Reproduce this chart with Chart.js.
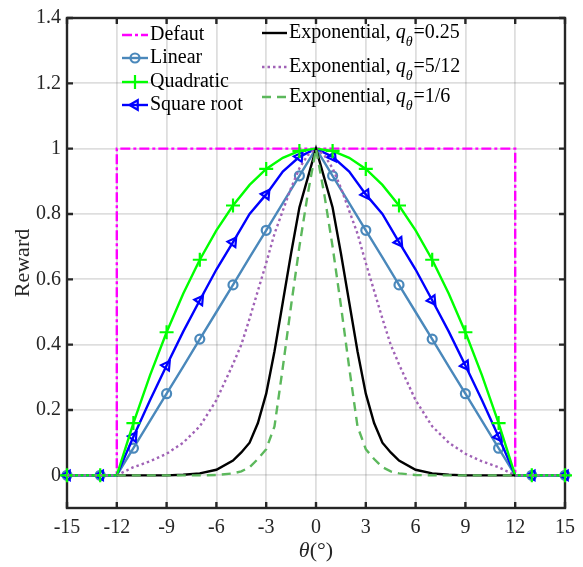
<!DOCTYPE html>
<html>
<head>
<meta charset="utf-8">
<script src="https://cdn.jsdelivr.net/npm/chart.js@4.4.0/dist/chart.umd.min.js"></script>
<style>
  html, body { margin: 0; padding: 0; background: #fff; }
</style>
</head>
<body>
<canvas id="rewardChart" width="583" height="567"></canvas>
<script>
/**
 * Reward vs. theta for the different reward shapes
 */

// integer theta (deg) for the piecewise curves
var thetaInt = [-15,-14,-13,-12,-11,-10,-9,-8,-7,-6,-5,-4,-3,-2,-1,0,1,2,3,4,5,6,7,8,9,10,11,12,13,14,15];
// markers only on odd theta
var markerTheta = [-15,-13,-11,-9,-7,-5,-3,-1,1,3,5,7,9,11,13,15];

var linearVals = [0,0,0,0,0.083,0.167,0.25,0.333,0.417,0.5,0.583,0.667,0.75,0.833,0.917,1,
  0.917,0.833,0.75,0.667,0.583,0.5,0.417,0.333,0.25,0.167,0.083,0,0,0,0];
var quadraticVals = [0,0,0,0,0.16,0.306,0.438,0.556,0.66,0.75,0.826,0.889,0.938,0.972,0.993,1,
  0.993,0.972,0.938,0.889,0.826,0.75,0.66,0.556,0.438,0.306,0.16,0,0,0,0];
var sqrtVals = [0,0,0,0,0.118,0.23,0.336,0.44,0.536,0.63,0.714,0.8,0.86,0.93,0.975,1,
  0.975,0.93,0.86,0.8,0.714,0.63,0.536,0.44,0.336,0.23,0.118,0,0,0,0];

// default (step) reward
var defaultTheta = [-15,-12,-12,12,12,15];
var defaultVals = [0,0,1,1,0,0];

// finer theta for the exponential curves
var expTheta = [-15,-14,-13,-12,-11,-10,-9,-8,-7,-6,-5,-4.5,-4,-3.5,-3,-2.5,-2,-1.5,-1,-0.5,0,
  0.5,1,1.5,2,2.5,3,3.5,4,4.5,5,6,7,8,9,10,11,12,13,14,15];
var exp025Vals = [null,null,null,0,0,0,0,0.002,0.006,0.017,0.045,0.07,0.1,0.16,0.25,0.38,0.53,0.68,0.82,0.91,1,
  0.91,0.82,0.68,0.53,0.38,0.25,0.16,0.1,0.07,0.045,0.017,0.006,0.002,0,0,0,0,null,null,null];
var exp512Vals = [0,0,0,0,0.025,0.043,0.066,0.1,0.15,0.23,0.34,0.4,0.48,0.565,0.65,0.74,0.81,0.88,0.94,0.98,1,
  0.98,0.94,0.88,0.81,0.74,0.65,0.565,0.48,0.4,0.34,0.23,0.15,0.1,0.066,0.043,0.025,0,0,0,0];
var exp16Vals = [null,null,null,0,0,0,0,0,0,0.001,0.006,0.012,0.025,0.05,0.08,0.15,0.33,0.52,0.7,0.86,1,
  0.86,0.7,0.52,0.33,0.15,0.08,0.05,0.025,0.012,0.006,0.001,0,0,0,0,0,0,null,null,null];

var xTickStep = 3;
var yTickVals = [0,0.2,0.4,0.6,0.8,1,1.2,1.4];

var seriesNames = ['Defaut','Linear','Quadratic','Square root'];
var expPrefix = 'Exponential, ';
var expQ = ['0.25','5/12','1/6'];

var serif = '"Liberation Serif", "Times New Roman", serif';
var lw = 2.4;

function toPoints(xs, ys) {
  return xs.map(function(x, i) { return {x: x, y: ys[i]}; });
}

function markerRadius(r) {
  return function(c) { return markerTheta.indexOf(c.raw.x) >= 0 ? r : 0; };
}

var datasets = [
  {
    label: seriesNames[0], data: toPoints(defaultTheta, defaultVals),
    borderColor: '#ff00ff', borderWidth: lw, borderDash: [10, 3, 3, 3],
    pointRadius: 0, order: 7
  },
  {
    label: seriesNames[1], data: toPoints(thetaInt, linearVals),
    borderColor: '#4a88bb', borderWidth: lw,
    pointStyle: 'circle', pointRadius: markerRadius(4.5), pointBorderWidth: 2.2,
    pointBorderColor: '#4a88bb', pointBackgroundColor: 'rgba(0,0,0,0)', order: 6
  },
  {
    label: seriesNames[2], data: toPoints(thetaInt, quadraticVals),
    borderColor: '#00ff00', borderWidth: lw,
    pointStyle: 'cross', pointRadius: markerRadius(7), pointBorderWidth: 2.2,
    pointBorderColor: '#00ff00', order: 4
  },
  {
    label: seriesNames[3], data: toPoints(thetaInt, sqrtVals),
    borderColor: '#0000ff', borderWidth: lw,
    pointStyle: 'triangle', pointRadius: markerRadius(5.5), pointBorderWidth: 2.2,
    pointBorderColor: '#0000ff', pointBackgroundColor: 'rgba(0,0,0,0)',
    pointRotation: function(c) {
      var t = c.raw.x;
      if (Math.abs(t) > 12) return -90;
      return t < 0 ? 35 : 145;
    },
    order: 5
  },
  {
    label: expPrefix + 'q=' + expQ[0], data: toPoints(expTheta, exp025Vals),
    borderColor: '#000000', borderWidth: lw, pointRadius: 0, order: 2
  },
  {
    label: expPrefix + 'q=' + expQ[1], data: toPoints(expTheta, exp512Vals),
    borderColor: '#a062b6', borderWidth: lw, borderDash: [2.5, 3], pointRadius: 0, order: 3
  },
  {
    label: expPrefix + 'q=' + expQ[2], data: toPoints(expTheta, exp16Vals),
    borderColor: '#5cb85c', borderWidth: lw, borderDash: [9, 6], pointRadius: 0, order: 1
  }
];

// box with inward ticks, drawn under the curves; x title with italic theta
var framePlugin = {
  id: 'frame',
  beforeDatasetsDraw: function(chart) {
    var ctx = chart.ctx, a = chart.chartArea, xs = chart.scales.x, ys = chart.scales.y;
    ctx.save();
    ctx.strokeStyle = '#262626';
    ctx.lineWidth = 2.4;
    ctx.beginPath();
    xs.ticks.forEach(function(t) {
      var px = xs.getPixelForValue(t.value);
      ctx.moveTo(px, a.bottom); ctx.lineTo(px, a.bottom - 6);
      ctx.moveTo(px, a.top); ctx.lineTo(px, a.top + 6);
    });
    ys.ticks.forEach(function(t) {
      var py = ys.getPixelForValue(t.value);
      ctx.moveTo(a.left, py); ctx.lineTo(a.left + 6, py);
      ctx.moveTo(a.right, py); ctx.lineTo(a.right - 6, py);
    });
    ctx.stroke();
    ctx.strokeRect(a.left, a.top, a.right - a.left, a.bottom - a.top);

    // x axis title
    var cx = xs.getPixelForValue(0), cy = 551;
    ctx.fillStyle = '#262626';
    ctx.textBaseline = 'middle';
    ctx.textAlign = 'left';
    ctx.font = 'italic 22px ' + serif;
    var w1 = ctx.measureText('\u03b8').width;
    ctx.font = '22px ' + serif;
    var w2 = ctx.measureText('(\u00b0)').width;
    var sx = cx - (w1 + w2) / 2;
    ctx.font = 'italic 22px ' + serif;
    ctx.fillText('\u03b8', sx, cy);
    ctx.font = '22px ' + serif;
    ctx.fillText('(\u00b0)', sx + w1, cy);
    ctx.restore();
  }
};

// two column legend inside the axes (needs subscripts, so drawn by hand)
var legendPlugin = {
  id: 'innerLegend',
  afterDraw: function(chart) {
    var ctx = chart.ctx;
    var rows = [
      {ds: 0, x0: 122, x1: 148, y: 35},
      {ds: 1, x0: 122, x1: 148, y: 58},
      {ds: 2, x0: 122, x1: 148, y: 82},
      {ds: 3, x0: 122, x1: 148, y: 105},
      {ds: 4, x0: 262, x1: 287, y: 33},
      {ds: 5, x0: 262, x1: 287, y: 67},
      {ds: 6, x0: 262, x1: 287, y: 97}
    ];
    ctx.save();
    rows.forEach(function(r) {
      var d = chart.data.datasets[r.ds];
      ctx.strokeStyle = d.borderColor;
      ctx.lineWidth = d.borderWidth;
      ctx.setLineDash(d.borderDash || []);
      ctx.beginPath();
      ctx.moveTo(r.x0, r.y);
      ctx.lineTo(r.x1, r.y);
      ctx.stroke();
      ctx.setLineDash([]);
      if (d.pointStyle) {
        ctx.fillStyle = 'rgba(0,0,0,0)';
        ctx.strokeStyle = d.pointBorderColor;
        ctx.lineWidth = d.pointBorderWidth;
        var rad = {circle: 4.5, cross: 7, triangle: 5.5}[d.pointStyle];
        Chart.helpers.drawPoint(ctx, {
          pointStyle: d.pointStyle, radius: rad, borderWidth: d.pointBorderWidth,
          rotation: d.pointStyle === 'triangle' ? -90 : 0
        }, (r.x0 + r.x1) / 2, r.y);
      }
      ctx.fillStyle = '#000';
      ctx.textBaseline = 'middle';
      ctx.textAlign = 'left';
      var tx = r.x1 + 2;
      if (r.ds < 4) {
        ctx.font = '20px ' + serif;
        ctx.fillText(seriesNames[r.ds], tx, r.y);
      } else {
        ctx.font = '20px ' + serif;
        ctx.fillText(expPrefix, tx, r.y);
        tx += ctx.measureText(expPrefix).width;
        ctx.font = 'italic 20px ' + serif;
        ctx.fillText('q', tx, r.y);
        tx += ctx.measureText('q').width;
        ctx.font = 'italic 14px ' + serif;
        ctx.fillText('\u03b8', tx, r.y + 9);
        tx += ctx.measureText('\u03b8').width + 1;
        ctx.font = '20px ' + serif;
        ctx.fillText('=' + expQ[r.ds - 4], tx, r.y);
      }
    });
    ctx.restore();
  }
};

var myChart = new Chart(document.getElementById('rewardChart'), {
  type: 'line',
  data: { datasets: datasets },
  options: {
    responsive: false,
    animation: false,
    devicePixelRatio: 1,
    spanGaps: false,
    layout: { padding: { top: 13, right: 18, left: 0, bottom: 0 } },
    datasets: { line: { clip: false, tension: 0, fill: false } },
    plugins: { legend: { display: false }, tooltip: { enabled: false } },
    scales: {
      x: {
        type: 'linear', min: -15, max: 15,
        border: { display: false },
        grid: { color: 'rgba(0,0,0,0.13)', lineWidth: 1.8, drawTicks: false },
        ticks: {
          stepSize: xTickStep, padding: 8, color: '#262626',
          font: { family: serif, size: 20 },
          callback: function(v) { return String(v); }
        },
        afterFit: function(scale) { scale.height = 59; }
      },
      y: {
        type: 'linear', min: -0.1, max: 1.4,
        border: { display: false },
        grid: { color: 'rgba(0,0,0,0.13)', lineWidth: 1.8, drawTicks: false },
        afterBuildTicks: function(scale) {
          scale.ticks = yTickVals.map(function(v) { return {value: v}; });
        },
        ticks: {
          padding: 6, color: '#262626',
          font: { family: serif, size: 20 },
          callback: function(v) { return String(Math.round(v * 10) / 10); }
        },
        title: {
          display: true, text: 'Reward', color: '#262626',
          font: { family: serif, size: 22 }, padding: { top: 10, bottom: 0 }
        },
        afterFit: function(scale) { scale.width = 67; }
      }
    }
  },
  plugins: [framePlugin, legendPlugin]
});
</script>
</body>
</html>
